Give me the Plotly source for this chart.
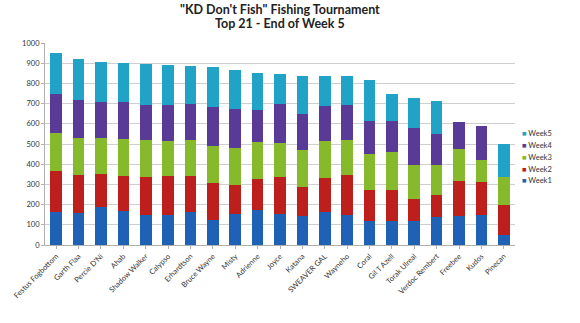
import plotly.graph_objects as go

# Anglers ranked by total weight after five weeks
anglers = ["Festus Fogbottom", "Garth Flaa", "Percie D'Ni", "Ahab", "Shadow Walker",
           "Calypso", "Erhardtson", "Bruce Wayne", "Misty", "Adrienne", "Joyce",
           "Katana", "SWEAVER GAL", "Wayneho", "Coral", "Gil T Azell", "Torak Ulreal",
           "Verdoc Rembert", "Freebee", "Kudos", "Pinecan"]

week1 = [165, 160, 190, 170, 150, 148, 165, 125, 155, 175, 152, 143, 162, 150, 120, 120, 117, 139, 143, 149, 51]
week2 = [200, 185, 160, 173, 188, 192, 176, 183, 142, 152, 184, 145, 168, 195, 153, 151, 109, 110, 173, 162, 145]
week3 = [190, 185, 178, 182, 180, 173, 179, 182, 183, 181, 171, 182, 184, 175, 179, 190, 168, 145, 160, 111, 142]
week4 = [195, 190, 182, 182, 177, 180, 180, 195, 193, 162, 193, 178, 176, 172, 161, 155, 183, 156, 134, 165, 0]
week5 = [200, 200, 195, 193, 200, 197, 185, 195, 192, 182, 145, 190, 146, 143, 202, 132, 151, 165, 0, 0, 161]

y_ticks = [0, 100, 200, 300, 400, 500, 600, 700, 800, 900, 1000]

title_lines = ["\"KD Don't Fish\" Fishing Tournament", "Top 21 - End of Week 5"]

series = [
    ("Week1", week1, "#1f62b5"),
    ("Week2", week2, "#bd1f1d"),
    ("Week3", week3, "#86b92c"),
    ("Week4", week4, "#5a3a97"),
    ("Week5", week5, "#20a3c7"),
]

fig = go.Figure()
for name, vals, color in series:
    fig.add_trace(go.Bar(
        name=name, x=anglers, y=vals,
        marker=dict(color=color, line=dict(width=0)),
        width=0.52, showlegend=False,
    ))

annotations = []
# two-line bold title
for i, line in enumerate(title_lines):
    annotations.append(dict(
        text="<b>" + line + "</b>", xref="paper", yref="paper",
        x=0.5, y=1.165 - i * 0.07, xanchor="center", yanchor="middle",
        showarrow=False, font=dict(size=12.5, color="#222222"),
    ))
# compact legend, top entry is the last week
for i, (name, vals, color) in enumerate(reversed(series)):
    annotations.append(dict(
        text="<span style='color:%s'>■</span> %s" % (color, name),
        xref="paper", yref="paper",
        x=1.01, y=0.55 - i * 0.058, xanchor="left", yanchor="middle",
        showarrow=False, font=dict(size=7.5, color="#333333"),
    ))

fig.update_layout(
    width=580, height=323,
    barmode="stack",
    paper_bgcolor="white", plot_bgcolor="white",
    margin=dict(l=38, r=65, t=43, b=78),
    font=dict(family="Lato, Open Sans, sans-serif", color="#404040"),
    annotations=annotations,
    xaxis=dict(
        tickangle=-45, tickfont=dict(size=7.5, color="#333333"),
        showline=True, linecolor="#b0b0b0", linewidth=1,
        ticks="outside", ticklen=3, tickcolor="#b0b0b0",
    ),
    yaxis=dict(
        range=[0, 1000], tickvals=y_ticks,
        tickfont=dict(size=7.5, color="#333333"),
        showgrid=True, gridcolor="#cfcfcf", gridwidth=1,
        showline=True, linecolor="#b0b0b0", linewidth=1,
        ticks="outside", ticklen=3, tickcolor="#b0b0b0",
        zeroline=False,
    ),
    bargap=0.5,
)

fig.write_html("out.html")
